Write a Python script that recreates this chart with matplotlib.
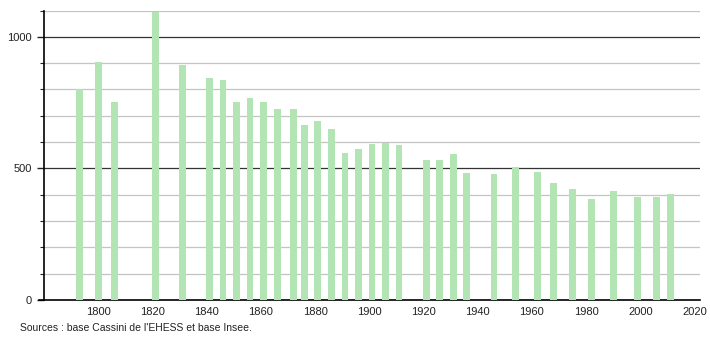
import numpy as np
import matplotlib
matplotlib.use("Agg")
import matplotlib.pyplot as plt
from matplotlib.ticker import MultipleLocator

#######################################################
# census years and population
years = [1793, 1800, 1806, 1821, 1831, 1841, 1846, 1851, 1856, 1861,
         1866, 1872, 1876, 1881, 1886, 1891, 1896, 1901, 1906, 1911,
         1921, 1926, 1931, 1936, 1946, 1954, 1962, 1968, 1975, 1982,
         1990, 1999, 2006, 2011]
population = [801, 903, 751, 1094, 893, 842, 836, 754, 766, 754,
              725, 725, 664, 682, 649, 560, 575, 592, 595, 588,
              531, 531, 553, 483, 480, 506, 487, 445, 420, 385,
              413, 392, 392, 401]
x_ticks = list(range(1800, 2021, 20))
y_ticks = [0, 500, 1000]
source = "Sources : base Cassini de l'EHESS et base Insee."
#######################################################

plt.rcParams['font.family'] = ['Liberation Sans', 'DejaVu Sans']

fig = plt.figure(figsize=(7.1, 3.4), dpi=100)
ax = fig.add_axes([44/710, 40/340, (700-44)/710, (300-10.5)/340])

ax.bar(years, population, width=2.5, color="#b3e4b3", zorder=3)

ax.set_xlim(1780, 2022)
ax.set_ylim(0, 1100)

# grid: light every 100, dark at 500s
for v in range(100, 1101, 100):
    if v % 500 == 0:
        ax.axhline(v, color="#333333", lw=0.9, zorder=1)
    else:
        ax.axhline(v, color="#c4c4c4", lw=0.9, zorder=1)

ax.set_xticks(x_ticks)
ax.set_yticks(y_ticks)
ax.yaxis.set_minor_locator(MultipleLocator(100))
ax.tick_params(axis="x", length=0, labelsize=8, pad=5, colors="#222222")
ax.tick_params(axis="y", which="major", length=5, width=1, labelsize=8, colors="#222222")
ax.tick_params(axis="y", which="minor", length=3, width=0.8, colors="#222222")

for s in ["top", "right"]:
    ax.spines[s].set_visible(False)
ax.spines["left"].set_linewidth(1.2)
ax.spines["bottom"].set_linewidth(1.2)
ax.spines["bottom"].set_bounds(1778, 2022)

fig.text(20/710, 1 - 328/340, source, fontsize=7.5, color="#222222", va="center")

plt.savefig("out.png", dpi=100)
